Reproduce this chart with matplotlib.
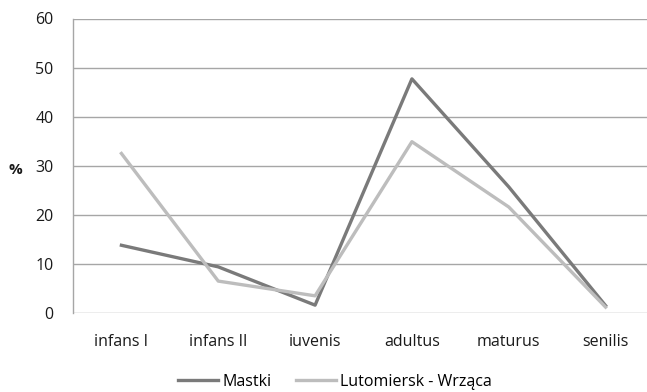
import numpy as np
import matplotlib.pyplot as plt

categories = ['infans I', 'infans II', 'iuvenis', 'adultus', 'maturus', 'senilis']
mastki = [13.8, 9.4, 1.6, 47.7, 25.7, 1.5]
lutomiersk = [32.5, 6.5, 3.5, 34.9, 21.6, 1.2]
yticks = [0, 10, 20, 30, 40, 50, 60]

plt.rcParams['font.family'] = ['Open Sans', 'DejaVu Sans']

fig = plt.figure(figsize=(6.47, 3.92), dpi=100)
ax = fig.add_axes([73 / 647, 79 / 392, 581 / 647, 294.5 / 392])

x = np.arange(len(categories))
ax.plot(x, mastki, color='#7a7a7a', linewidth=2.4, label='Mastki', zorder=3)
ax.plot(x, lutomiersk, color='#bdbdbd', linewidth=2.4, label='Lutomiersk - Wrząca', zorder=3)

ax.set_xlim(-0.5, 5.5)
ax.set_ylim(0, 60)
ax.set_yticks(yticks)
ax.set_xticks(x)
ax.set_xticklabels(categories)
ax.tick_params(axis='both', length=0, labelsize=11.5, colors='#1a1a1a')
ax.tick_params(axis='y', pad=14)
ax.tick_params(axis='x', pad=15)

ax.yaxis.grid(True, color='#a6a6a6', linewidth=1)
ax.set_axisbelow(True)
for s in ['top', 'right', 'bottom']:
    ax.spines[s].set_visible(False)
ax.spines['left'].set_color('#a6a6a6')
ax.spines['left'].set_linewidth(1)

fig.text(15 / 647, 1 - 170 / 392, '%', fontsize=11, fontweight='bold',
         color='#1a1a1a', ha='center', va='center')

ax.legend(loc='center', bbox_to_anchor=(335 / 647, 1 - 382 / 392),
          bbox_transform=fig.transFigure, ncol=2, frameon=False,
          fontsize=11.5, handlelength=2.5, handletextpad=0.3, columnspacing=1.5)

fig.savefig('out.png', dpi=100)
